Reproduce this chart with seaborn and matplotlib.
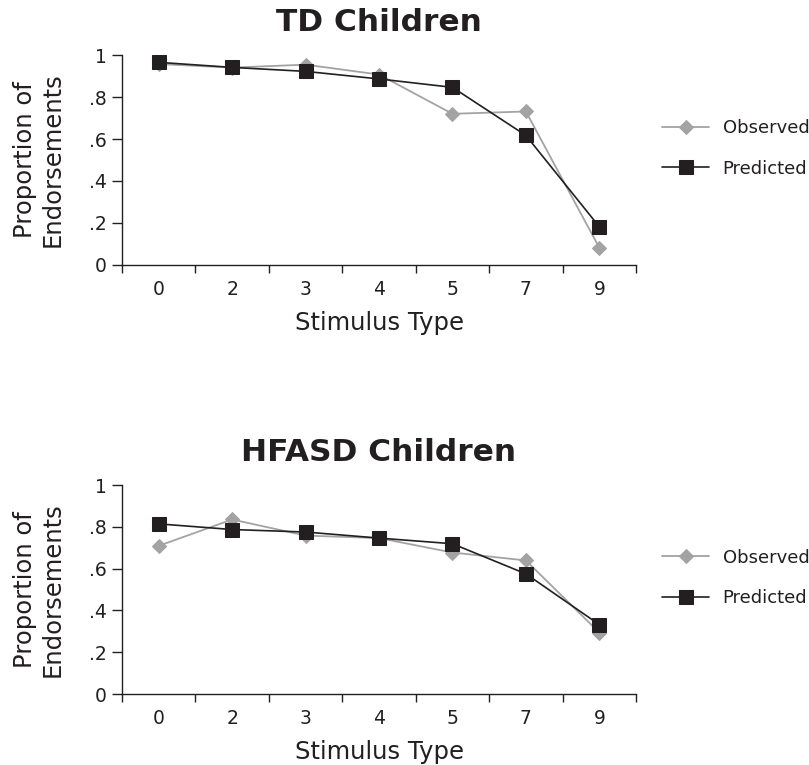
import matplotlib
matplotlib.use("Agg")
import matplotlib.pyplot as plt
import seaborn as sns
from matplotlib.ticker import FixedLocator

# data
stimulus = ["0", "2", "3", "4", "5", "7", "9"]
td_observed = [0.957, 0.94, 0.954, 0.907, 0.72, 0.731, 0.082]
td_predicted = [0.965, 0.941, 0.922, 0.886, 0.846, 0.617, 0.182]
hfasd_observed = [0.709, 0.835, 0.758, 0.746, 0.677, 0.639, 0.294]
hfasd_predicted = [0.814, 0.787, 0.775, 0.746, 0.719, 0.575, 0.332]
y_ticks = [0, 0.2, 0.4, 0.6, 0.8, 1.0]
y_labels = ["0", ".2", ".4", ".6", ".8", "1"]

sns.set_style("white")
plt.rcParams['font.family'] = ['DejaVu Sans']
plt.rcParams['text.color'] = "#231f20"
plt.rcParams['axes.labelcolor'] = "#231f20"

fig = plt.figure(figsize=(8.09, 7.65), dpi=100)
ax_top = fig.add_axes([0.1508, 0.6536, 0.6354, 0.2745])
ax_bot = fig.add_axes([0.1508, 0.0928, 0.6354, 0.2732])


def draw_panel(ax, observed, predicted, title):
    sns.lineplot(x=stimulus, y=observed, ax=ax, color="#a3a3a3", lw=1.3,
                 marker="D", markersize=7, markeredgecolor="#a3a3a3",
                 label="Observed", sort=False)
    sns.lineplot(x=stimulus, y=predicted, ax=ax, color="#231f20", lw=1.2,
                 marker="s", markersize=10.5, markeredgecolor="#231f20",
                 label="Predicted", sort=False)
    ax.set_xlim(-0.5, len(stimulus) - 0.5)
    ax.set_ylim(0, 1)
    ax.set_yticks(y_ticks)
    ax.set_yticklabels(y_labels)
    ax.set_xticks(range(len(stimulus)))
    ax.set_xticklabels(stimulus)
    ax.xaxis.set_minor_locator(FixedLocator([i - 0.5 for i in range(len(stimulus) + 1)]))
    ax.tick_params(axis="x", which="major", length=0, pad=11, labelsize=13.5,
                   labelcolor="#231f20")
    ax.tick_params(axis="x", which="minor", length=6, width=1, direction="out",
                   color="#231f20", bottom=True)
    ax.tick_params(axis="y", length=7, width=1, direction="out", color="#231f20",
                   left=True, labelsize=13.5, pad=4, labelcolor="#231f20")
    for side in ["top", "right"]:
        ax.spines[side].set_visible(False)
    for side in ["left", "bottom"]:
        ax.spines[side].set_color("#231f20")
        ax.spines[side].set_linewidth(1)
    ax.set_xlabel("Stimulus Type", fontsize=17.5, va="top")
    ax.xaxis.set_label_coords(0.5, -0.22)
    ax.set_ylabel("Proportion of\nEndorsements", fontsize=17.5)
    ax.yaxis.set_label_coords(-0.111, 0.5)
    ax.set_title(title, fontsize=22.5, fontweight="bold", pad=17.5)
    ax.legend(loc="center left", bbox_to_anchor=(1.0506, 0.555), frameon=False,
              fontsize=13, labelspacing=1.25, handlelength=2.6, handletextpad=0.75,
              borderpad=0, borderaxespad=0)


draw_panel(ax_top, td_observed, td_predicted, "TD Children")
draw_panel(ax_bot, hfasd_observed, hfasd_predicted, "HFASD Children")

fig.savefig("out.png", dpi=100)
